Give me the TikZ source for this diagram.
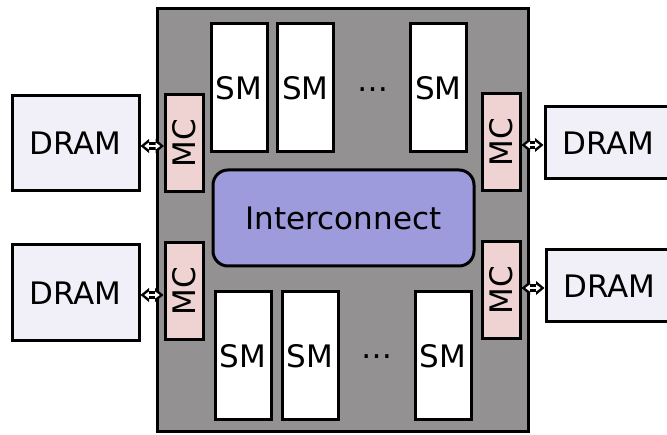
\documentclass[tikz,border=0pt]{standalone}
\usepackage{fontspec}
\setmainfont{DejaVu Sans}
\usetikzlibrary{arrows.meta}

\begin{document}
\begin{tikzpicture}[x=1pt, y=-1pt]
    % Define colours
    \definecolor{chipColour}{HTML}{939192}
    \definecolor{dramColour}{HTML}{F1F0F8}
    \definecolor{mcColour}{HTML}{EFD3D3}
    \definecolor{netColour}{HTML}{9D9BDB}

    % Define styles
    \tikzset{
      box/.style={draw=black, line width=3pt, inner sep=0pt,
                  font=\fontsize{31}{37}\selectfont},
      dram/.style={box, fill=dramColour, minimum width=127pt},
      mcbox/.style={box, fill=mcColour, minimum width=38pt, minimum height=97pt},
      smbox/.style={box, fill=white, minimum width=56pt, minimum height=128pt},
      linkOuter/.style={black, line width=7.2pt,
        {Triangle[length=8.5pt,width=13.5pt]}-{Triangle[length=8.5pt,width=13.5pt]}},
      linkInner/.style={white, line width=2.8pt, shorten <=3.8pt, shorten >=3.8pt,
        {Triangle[length=4.5pt,width=6.5pt]}-{Triangle[length=4.5pt,width=6.5pt]}}
    }

    % Fix the page size
    \useasboundingbox (0,0) rectangle (667,435);

    % Draw the chip
    \node[box, fill=chipColour, minimum width=371pt, minimum height=423pt]
      (chip) at (342.5,220.5) {};

    % Off-chip memories
    \node[dram, minimum height=95pt] (dramTL) at (75.5,143.5) {DRAM};
    \node[dram, minimum height=96pt] (dramBL) at (75.5,293) {DRAM};
    \node[dram, minimum height=72pt] (dramTR) at (608.5,143) {DRAM};
    \node[dram, minimum height=72pt] (dramBR) at (609.5,286) {DRAM};

    % Memory controllers
    \node[mcbox] (mcTL) at (184.5,143.5) {\rotatebox{90}{MC}};
    \node[mcbox] (mcBL) at (184,291) {\rotatebox{90}{MC}};
    \node[mcbox] (mcTR) at (501,142.5) {\rotatebox{90}{MC}};
    \node[mcbox] (mcBR) at (501,290) {\rotatebox{90}{MC}};

    % Streaming multiprocessors, top and bottom rows
    \foreach \name/\x in {1/239, 2/305.5, 3/438.5}
      \node[smbox] (smT\name) at (\x,88) {SM};
    \foreach \name/\x in {1/243, 2/310, 3/443}
      \node[smbox] (smB\name) at (\x,356) {SM};
    \node[box, draw=none] (dotsT) at (373,90) {…};
    \node[box, draw=none] (dotsB) at (377,357) {…};

    % Interconnect
    \node[box, fill=netColour, rounded corners=15pt, minimum width=261pt,
          minimum height=96pt] (net) at (343.5,218) {Interconnect};

    % Links between controllers and memories (left node / right node / height)
    \foreach \a/\b/\y in {dramTL/mcTL/146, dramBL/mcBL/295, mcTR/dramTR/145, mcBR/dramBR/288} {
      \draw[linkOuter] (\a.east |- 0,\y) -- (\b.west |- 0,\y);
      \draw[linkInner] (\a.east |- 0,\y) -- (\b.west |- 0,\y);
    }

\end{tikzpicture}
\end{document}
